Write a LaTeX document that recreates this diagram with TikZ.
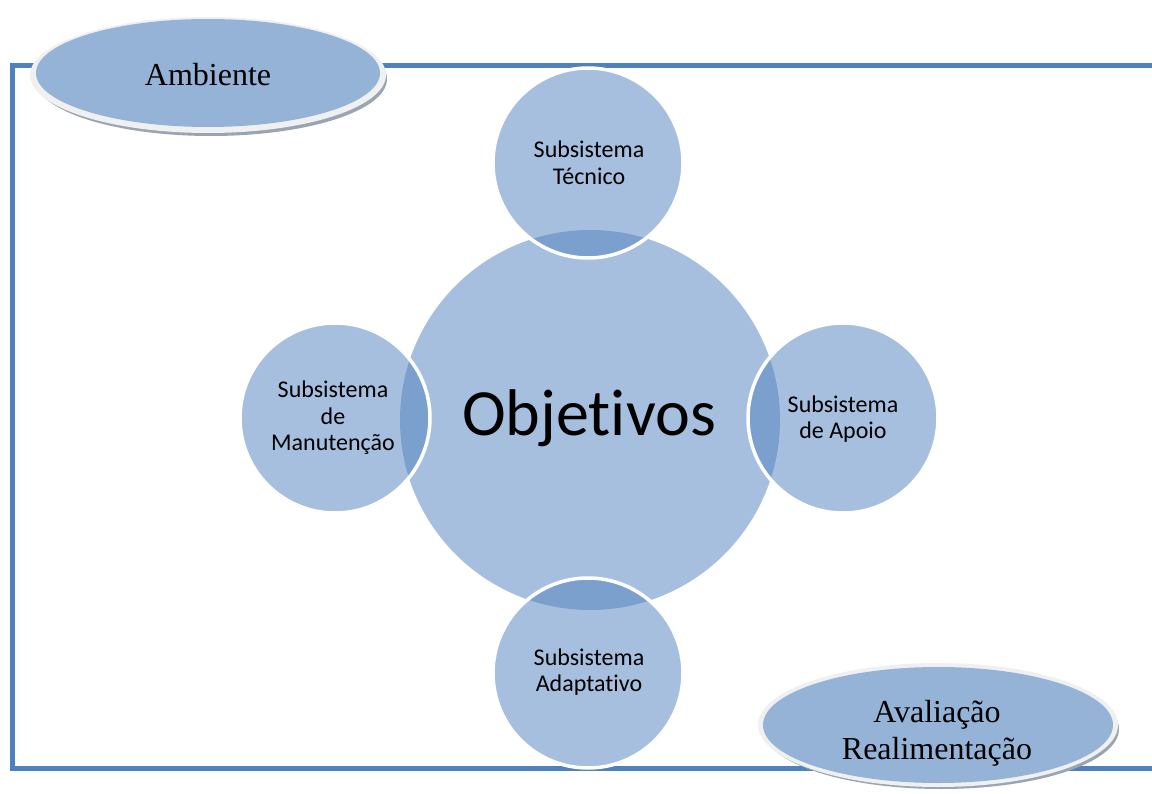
\documentclass[tikz,border=0pt]{standalone}
\usepackage{fontspec}
\setmainfont{Liberation Serif}
\newfontfamily\calib[Ligatures={NoCommon,NoRequired,NoContextual}]{Carlito}
\usetikzlibrary{shapes.geometric}

\definecolor{framec}{HTML}{4F81BD}
\definecolor{circfill}{HTML}{A7BFDE}
\definecolor{lensfill}{HTML}{7BA0CD}
\definecolor{ellfill}{HTML}{95B3D7}
\definecolor{rimc}{HTML}{F0F0F0}
\definecolor{shadowc}{HTML}{9AA5B2}

\tikzset{
  subtext/.style={font=\calib\fontsize{24}{26.5}\selectfont, align=center, text=black},
  bigtext/.style={font=\calib\fontsize{66}{70}\selectfont, text=black},
  elltext/.style={font=\fontsize{32}{37}\selectfont, align=center, text=black},
  framepen/.style={draw=framec, line width=5pt},
}

\begin{document}
\begin{tikzpicture}[x=1pt,y=-1pt]
\useasboundingbox (0,0) rectangle (1152,794);

% outer frame
\draw[framepen] (1152,66) -- (12,66) -- (12,768) -- (1152,768);

% central and satellite circles
\def\bigR{190}
\def\smR{95}
\coordinate (oc) at (590,420);
\fill[circfill] (oc) circle (\bigR);

\foreach \nm/\cx/\cy in {top/588/163, bot/588/673, lft/335/418, rgt/843/418}{
  \fill[circfill] (\cx,\cy) circle (\smR);
  \begin{scope}
    \clip (\cx,\cy) circle (\smR);
    \fill[lensfill] (oc) circle (\bigR);
  \end{scope}
  \draw[white, line width=3.5pt] (\cx,\cy) circle (\smR);
}

\node[bigtext] (obj) at (589,418) {Objetivos};
\node[subtext] (tec) at (589,163) {Subsistema\\Técnico};
\node[subtext] (man) at (333,418) {Subsistema\\de\\Manutenção};
\node[subtext] (apo) at (843,419) {Subsistema\\de Apoio};
\node[subtext] (ada) at (589,672) {Subsistema\\Adaptativo};

% labelled ellipses
\fill[shadowc] (211,79) ellipse (176 and 57);
\fill[rimc] (208,75) ellipse (178 and 58);
\fill[ellfill] (208,73) ellipse (172 and 54);
\node[elltext] (amb) at (208,75) {Ambiente};

\fill[shadowc] (941,729) ellipse (178 and 60);
\fill[rimc] (938,725) ellipse (180 and 62);
\fill[ellfill] (938,725) ellipse (175 and 58);
\node[elltext] (ava) at (937,733) {Avaliação\\Realimentação};
\end{tikzpicture}
\end{document}
